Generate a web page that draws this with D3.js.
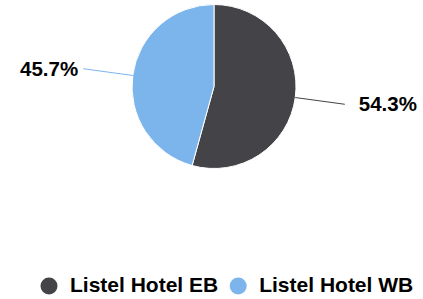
<!DOCTYPE html>
<html><head><meta charset="utf-8">
<script src="https://cdn.jsdelivr.net/npm/d3@7"></script>
<style>body{margin:0;background:#fff}svg{display:block}</style>
</head><body><svg id="c" width="423" height="299"></svg>
<script>
const categories = ["Listel Hotel EB", "Listel Hotel WB"];
const values = [54.3, 45.7];
const labels = ["54.3%", "45.7%"];
const colors = ["#434348", "#7cb5ec"];

const svg = d3.select("#c");
const cx = 214, cy = 86.5, r = 82;
const font = "'Liberation Sans', Arial, sans-serif";

const pie = d3.pie().sort(null).value(d => d)(values);
const arc = d3.arc().innerRadius(0).outerRadius(r);
const g = svg.append("g").attr("transform", `translate(${cx},${cy})`);
g.selectAll("path.slice").data(pie).join("path")
  .attr("d", arc).attr("fill", (d, i) => colors[i])
  .attr("stroke", "#fff").attr("stroke-width", 1).attr("stroke-linejoin", "round");

pie.forEach((d, i) => {
  const a = (d.startAngle + d.endAngle) / 2;
  const sx = Math.sin(a), sy = -Math.cos(a);
  const x1 = sx * r, y1 = sy * r, x2 = sx * (r + 50), y2 = sy * (r + 50);
  g.append("line").attr("x1", x1).attr("y1", y1).attr("x2", x2).attr("y2", y2)
    .attr("stroke", colors[i]).attr("stroke-width", 1);
  const right = sx > 0;
  g.append("text").attr("x", right ? x2 + 14 : x2 - 5).attr("y", y2 + 1.5)
    .attr("text-anchor", right ? "start" : "end").attr("dominant-baseline", "middle")
    .attr("font-family", font).attr("font-weight", "bold").attr("font-size", 20.5)
    .attr("fill", "#000").text(labels[i]);
});

// legend
const lg = svg.append("g");
let x = 49;
categories.forEach((c, i) => {
  lg.append("circle").attr("cx", x).attr("cy", 286).attr("r", 8.5).attr("fill", colors[i]);
  const t = lg.append("text").attr("x", x + 21).attr("y", 286.5).attr("dominant-baseline", "middle")
    .attr("font-family", font).attr("font-weight", "bold").attr("font-size", 21)
    .attr("fill", "#000").text(c);
  x += 21 + t.node().getComputedTextLength() + 20;
});
</script></body></html>
